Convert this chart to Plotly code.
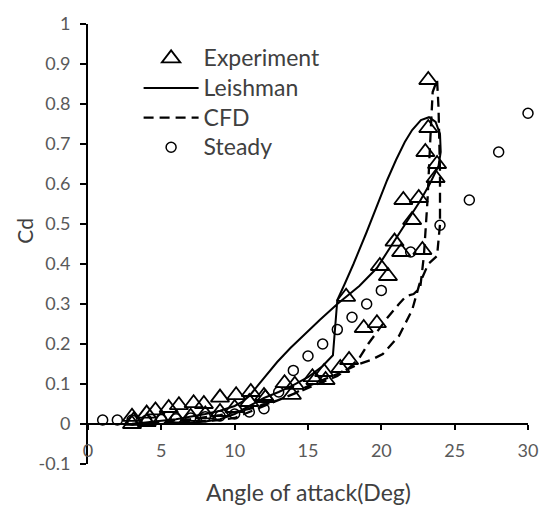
import plotly.graph_objects as go

# ---------------- data ----------------
exp_aoa = [3.0, 3.1, 3.0, 4.0, 4.0, 4.6, 5.0, 5.5, 6.0, 6.2, 7.0, 7.2, 7.9, 8.0,
           9.0, 9.0, 10.1, 10.0, 11.1, 11.0, 12.1, 12.0, 13.4, 13.9, 14.1, 15.3,
           15.5, 16.1, 16.2, 17.2, 17.8, 17.6, 18.8, 19.7, 19.9, 20.45, 20.9,
           21.35, 21.5, 22.1, 22.55, 22.8, 23.0, 23.2, 23.2, 23.7, 23.8]
exp_cd = [0.0, 0.008, 0.018, 0.005, 0.026, 0.034, 0.01, 0.04, 0.014, 0.047, 0.018,
          0.052, 0.05, 0.024, 0.066, 0.03, 0.072, 0.04, 0.08, 0.055, 0.065, 0.07,
          0.102, 0.073, 0.098, 0.117, 0.11, 0.13, 0.11, 0.14, 0.16, 0.318, 0.24,
          0.252, 0.395, 0.37, 0.456, 0.43, 0.56, 0.51, 0.565, 0.435, 0.68, 0.74,
          0.86, 0.615, 0.65]

leish_aoa = [3.0, 5.0, 7.0, 8.0, 9.0, 10.0, 11.0, 12.0, 13.0, 14.0, 15.0, 16.0,
             16.7, 17.0, 17.5, 18.1, 19.0, 19.7, 20.4, 21.0, 21.6, 22.1, 22.7,
             23.25, 23.7, 24.0, 24.05, 23.9, 23.3, 22.6, 21.8, 21.0, 19.7, 18.5,
             17.0, 15.8, 14.7, 13.8, 12.9, 12.2, 11.6, 11.0, 10.5, 10.0, 9.0, 8.0,
             7.0, 6.0, 5.0, 4.0, 3.0]
leish_cd = [0.0, 0.0, 0.003, 0.006, 0.012, 0.025, 0.045, 0.065, 0.08, 0.097, 0.117,
            0.145, 0.172, 0.31, 0.35, 0.40, 0.48, 0.545, 0.61, 0.66, 0.705, 0.735,
            0.76, 0.767, 0.755, 0.725, 0.68, 0.645, 0.60, 0.555, 0.51, 0.465, 0.39,
            0.345, 0.30, 0.26, 0.222, 0.19, 0.155, 0.125, 0.097, 0.07, 0.055, 0.045,
            0.033, 0.025, 0.018, 0.012, 0.008, 0.004, 0.0]

cfd_aoa = [3.0, 5.0, 7.0, 9.0, 10.0, 11.0, 12.0, 13.0, 14.0, 15.0, 16.0, 17.0,
           17.6, 18.5, 19.3, 20.1, 21.2, 22.1, 22.6, 23.2, 23.8, 24.0, 24.0, 23.9,
           23.8, 23.5, 23.35, 23.15, 22.9, 22.65, 22.2, 21.7, 21.2, 20.4, 19.6,
           19.1, 18.5, 17.8, 17.0, 16.0, 15.0, 14.0, 13.0, 12.0, 11.0, 10.0, 9.0,
           7.0, 5.0, 3.0]
cfd_cd = [0.0, 0.002, 0.005, 0.01, 0.015, 0.03, 0.045, 0.06, 0.075, 0.09, 0.105,
          0.12, 0.135, 0.15, 0.16, 0.175, 0.22, 0.285, 0.35, 0.40, 0.42, 0.50, 0.63,
          0.79, 0.86, 0.83, 0.72, 0.56, 0.42, 0.34, 0.325, 0.32, 0.30, 0.265, 0.225,
          0.20, 0.165, 0.14, 0.125, 0.11, 0.095, 0.075, 0.06, 0.048, 0.038, 0.03,
          0.022, 0.012, 0.006, 0.0]

steady_aoa = [1, 2, 3, 4, 5, 6, 7, 8, 9, 10, 11, 12, 13, 14, 15, 16, 17, 18, 19, 20,
              22, 24, 26, 28, 30]
steady_cd = [0.01, 0.01, 0.01, 0.01, 0.012, 0.013, 0.015, 0.018, 0.02, 0.025, 0.03,
             0.038, 0.08, 0.134, 0.17, 0.20, 0.236, 0.267, 0.30, 0.334, 0.43, 0.497,
             0.56, 0.68, 0.777]

series_names = ["Experiment", "Leishman", "CFD", "Steady"]

x_ticks = [0, 5, 10, 15, 20, 25, 30]
y_ticks = [-0.1, 0, 0.1, 0.2, 0.3, 0.4, 0.5, 0.6, 0.7, 0.8, 0.9, 1]
y_tick_text = ["-0.1", "0", "0.1", "0.2", "0.3", "0.4", "0.5", "0.6", "0.7",
               "0.8", "0.9", "1"]

FONT = "Lato"
TXT = "#404040"
TICK = "#595959"


def legend_label(s):
    return '<span style="font-size:23px">' + s + '</span>'


fig = go.Figure()
fig.add_trace(go.Scatter(
    x=exp_aoa, y=exp_cd, mode="markers", name=legend_label(series_names[0]),
    marker=dict(symbol="triangle-up-open", size=16, color="black",
                line=dict(width=1.8, color="black")),
    cliponaxis=False))
fig.add_trace(go.Scatter(
    x=leish_aoa, y=leish_cd, mode="lines", name=legend_label(series_names[1]),
    line=dict(color="black", width=2)))
fig.add_trace(go.Scatter(
    x=cfd_aoa, y=cfd_cd, mode="lines", name=legend_label(series_names[2]),
    line=dict(color="black", width=2.3, dash="10px,6px")))
fig.add_trace(go.Scatter(
    x=steady_aoa, y=steady_cd, mode="markers", name=legend_label(series_names[3]),
    marker=dict(symbol="circle-open", size=10, color="black",
                line=dict(width=1.5, color="black")),
    cliponaxis=False))

fig.update_layout(
    width=550, height=508,
    margin=dict(l=88, r=16, t=15, b=44, pad=0),
    paper_bgcolor="white", plot_bgcolor="white",
    font=dict(family=FONT, size=18, color=TICK),
    showlegend=True,
    legend=dict(x=0.115, y=0.967, xanchor="left", yanchor="top",
                bgcolor="rgba(0,0,0,0)", borderwidth=0,
                font=dict(family=FONT, size=20.5, color=TXT),
                itemwidth=55, tracegroupgap=0),
    xaxis=dict(range=[0, 30], tickvals=x_ticks, ticktext=[str(v) for v in x_ticks],
               showgrid=False, zeroline=False, showline=True, linecolor="black",
               linewidth=2, ticks="outside", ticklen=5, tickwidth=2, tickcolor="black",
               anchor="free", position=0.1 / 1.1,
               tickfont=dict(family=FONT, size=18, color=TICK), ticklabelstandoff=5),
    yaxis=dict(range=[-0.1, 1.0], tickvals=y_ticks, ticktext=y_tick_text,
               showgrid=False, zeroline=False, showline=True, linecolor="black",
               linewidth=2, ticks="outside", ticklen=6, tickwidth=2, tickcolor="black",
               tickfont=dict(family=FONT, size=18, color=TICK), ticklabelstandoff=6),
    annotations=[
        dict(text="Angle of attack(Deg)", xref="paper", yref="paper",
             x=0.5, y=(464 - 493) / 449, xanchor="center",
             yanchor="middle", showarrow=False,
             font=dict(family=FONT, size=23, color=TXT)),
        dict(text="Cd", xref="paper", yref="paper",
             x=(24 - 88) / 446, y=(464 - 226) / 449, xanchor="center",
             yanchor="middle", showarrow=False, textangle=-90,
             font=dict(family=FONT, size=21, color=TXT)),
    ],
)

fig.write_html("out.html")
